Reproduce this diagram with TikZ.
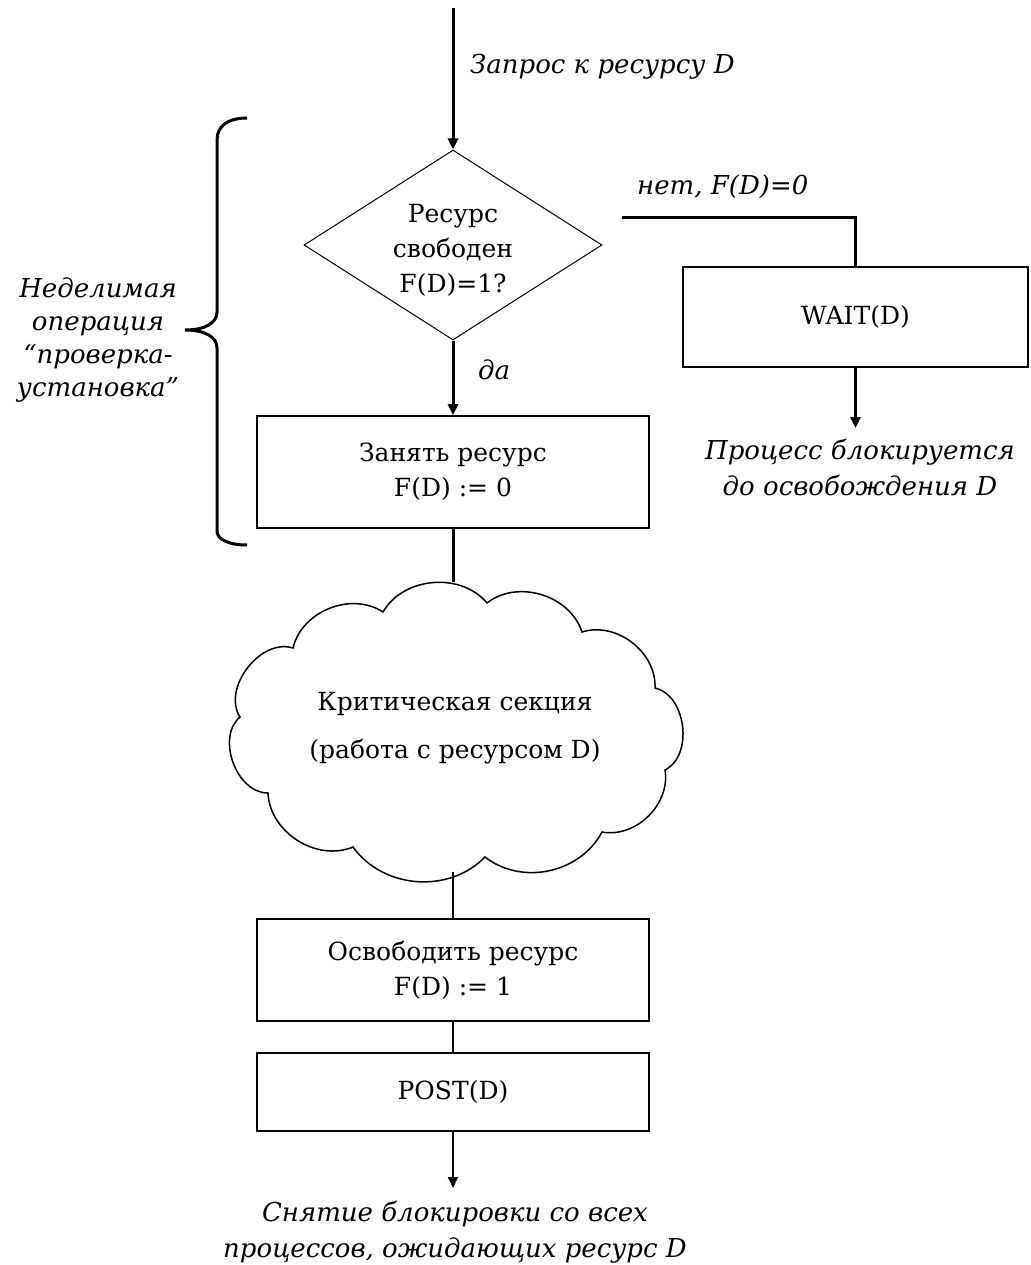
\documentclass[tikz,border=0pt]{standalone}
\usepackage{fontspec}
\setmainfont{DejaVu Serif}
\usetikzlibrary{arrows.meta,shapes.geometric}
\begin{document}
\begin{tikzpicture}[x=1pt,y=-1pt,
  upr/.style={font=\fontsize{25}{35}\selectfont},
  itl/.style={font=\fontsize{26}{36}\selectfont\itshape},
  box/.style={draw,line width=1.6pt,rectangle,minimum width=392pt,inner sep=0pt,align=center,upr},
  decision/.style={draw,line width=1pt,diamond,minimum width=298pt,minimum height=190pt,inner sep=0pt},
  thickline/.style={line width=3pt},
  thinline/.style={line width=1.8pt},
  tip/.style={-{Triangle[length=11pt,width=10pt]}},
]
\useasboundingbox (0,0) rectangle (1030,1265);

% nodes
\node[decision] (dec) at (453,245) {};
\node[align=center,upr,inner sep=0pt] (dectext) at (453,250) {Ресурс\\свободен\\F(D)=1?};
\node[box,minimum height=112pt] (take) at (453,472) {Занять ресурс\\F(D) := 0};
\node[box,minimum width=345pt,minimum height=100pt] (wait) at (855.5,317) {WAIT(D)};
\node[box,minimum height=102pt] (free) at (453,970) {Освободить ресурс\\F(D) := 1};
\node[box,minimum height=78pt] (post) at (453,1092) {POST(D)};

% cloud
\draw[line width=1.5pt] (383,612) to[bend left=55] (487,603) to[bend left=55] (582,632)
  to[bend left=55] (655,688) to[bend left=70] (665,770) to[bend left=55] (602,832)
  to[bend left=50] (485,857) to[bend left=50] (353,847) to[bend left=55] (268,793)
  to[bend left=70] (240,717) to[bend left=70] (293,648) to[bend left=55] (383,612) -- cycle;
\node[align=center,upr,inner sep=0pt] (crit) at (455,728) {Критическая секция\\[13pt](работа с ресурсом D)};

% coordinates
\coordinate (start) at (453,8);
\coordinate (noStart) at (622,218);
\coordinate (waitEnd) at (855.5,428);
\coordinate (cloudTop) at (453,582);
\coordinate (cloudBot) at (453,872);
\coordinate (postEnd) at (453,1188);

% connectors
\draw[thickline,tip] (start) -- (dec.north);
\draw[thickline,tip] (dec.south) -- (take.north);
\draw[thickline] (noStart) -| (wait.north);
\draw[thickline,tip] (wait.south) -- (waitEnd);
\draw[thickline] (take.south) -- (cloudTop);
\draw[thinline] (cloudBot) -- (free.north);
\draw[thinline] (free.south) -- (post.north);
\draw[thinline,tip] (post.south) -- (postEnd);

% labels
\node[itl,anchor=west,inner sep=0pt] (req) at (470,67) {Запрос к ресурсу D};
\node[itl,anchor=west,inner sep=0pt] (no) at (637,187) {нет, F(D)=0};
\node[itl,anchor=west,inner sep=0pt] (yes) at (478,370) {да};
\node[itl,align=center,inner sep=0pt] (blocked) at (860,467) {Процесс блокируется\\до освобождения D};
\node[itl,align=center,inner sep=0pt] (release) at (455,1232) {Снятие блокировки со всех\\процессов, ожидающих ресурс D};
\node[itl,align=center,inner sep=0pt,font=\fontsize{26}{33}\selectfont\itshape] (atomic) at (98,340) {Неделимая\\операция\\“проверка-\\установка”};

% brace
\draw[line width=3pt] (247,118) .. controls (228,118) and (217,126) .. (217,140)
  -- (217,312) .. controls (217,323) and (205,330) .. (185,330)
  .. controls (205,330) and (217,337) .. (217,348)
  -- (217,531) .. controls (217,539) and (228,545) .. (247,545);
\end{tikzpicture}
\end{document}
